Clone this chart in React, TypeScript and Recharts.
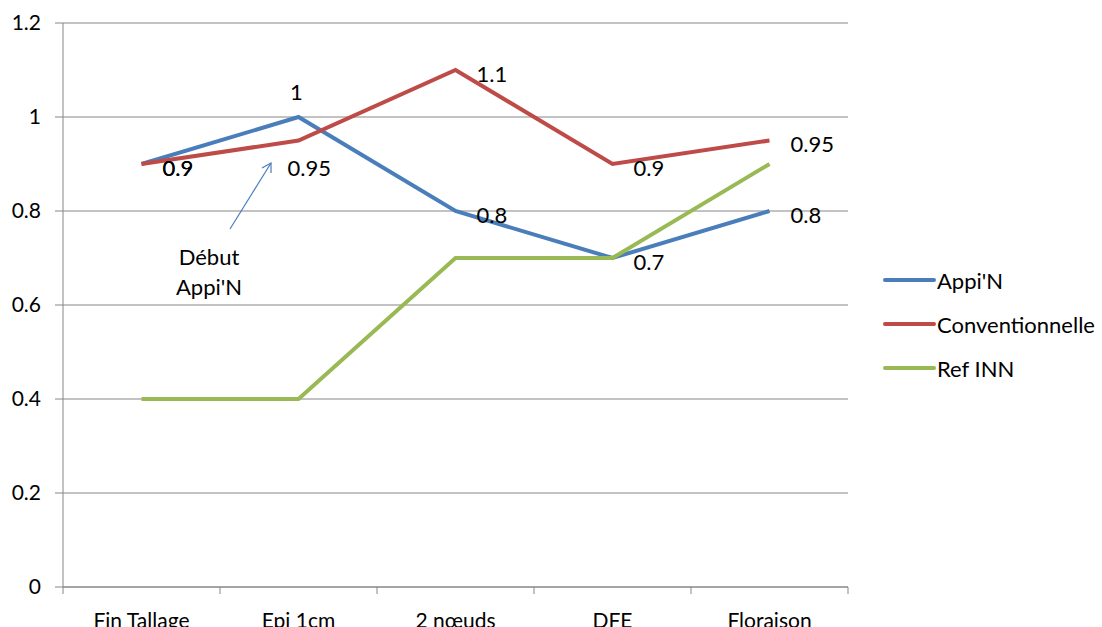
import { CartesianGrid, LabelList, Line, LineChart, XAxis, YAxis } from "recharts";

// Stage names along the x axis and the three nitrogen index series.
const STAGES = ["Fin Tallage", "Epi 1cm", "2 nœuds", "DFE", "Floraison"];
const APPIN = [0.9, 1, 0.8, 0.7, 0.8];
const CONVENTIONNELLE = [0.9, 0.95, 1.1, 0.9, 0.95];
const REF_INN = [0.4, 0.4, 0.7, 0.7, 0.9];
const Y_TICKS = [0, 0.2, 0.4, 0.6, 0.8, 1, 1.2];

// Where each value label sits relative to its point (Excel placed them by hand).
const APPIN_LABEL_POS = ["right", "top", "right", "right", "right"];
const CONV_LABEL_POS = ["right", "below", "right", "right", "right"];

const BLUE = "#4a7ebb";
const RED = "#be4b48";
const GREEN = "#98b954";
const GRID = "#868686";
const FONT = "Lato, 'Open Sans', sans-serif";

const W = 1102;
const H = 627;
const PLOT_LEFT = 63;
const PLOT_RIGHT = 848;
const HALF_BAND = (PLOT_RIGHT - PLOT_LEFT) / STAGES.length / 2;

const rows = STAGES.map((stage, i) => ({
  stage,
  appin: APPIN[i],
  conv: CONVENTIONNELLE[i],
  ref: REF_INN[i],
}));

const SERIES = [
  { key: "appin", name: "Appi'N", color: BLUE },
  { key: "conv", name: "Conventionnelle", color: RED },
  { key: "ref", name: "Ref INN", color: GREEN },
];

function makeLabel(positions: string[]) {
  return (props: any) => {
    const { x, y, value, index } = props;
    const pos = positions[index];
    let tx = x + 21;
    let ty = y + 3;
    let anchor: "start" | "middle" = "start";
    if (pos === "top") {
      tx = x - 2;
      ty = y - 26;
      anchor = "middle";
    } else if (pos === "below") {
      tx = x - 11;
      ty = y + 27;
    }
    return (
      <text x={tx} y={ty} textAnchor={anchor} dominantBaseline="central" fontSize={22} fontFamily={FONT} fill="#000">
        {value}
      </text>
    );
  };
}

function StageTick(props: any) {
  const { x, y, payload, index, visibleTicksCount } = props;
  const last = index === visibleTicksCount - 1;
  return (
    <g>
      <line x1={x - HALF_BAND} y1={y - 8} x2={x - HALF_BAND} y2={y - 1} stroke={GRID} />
      {last && <line x1={x + HALF_BAND} y1={y - 8} x2={x + HALF_BAND} y2={y - 1} stroke={GRID} />}
      <text x={x} y={y + 33} textAnchor="middle" fontSize={21} fontFamily={FONT} fill="#000">
        {payload.value}
      </text>
    </g>
  );
}

function LegendBox() {
  return (
    <div style={{ position: "absolute", left: 883, top: 258, fontFamily: FONT, fontSize: 22, color: "#000" }}>
      {SERIES.map((s) => (
        <div key={s.key} style={{ display: "flex", alignItems: "center", height: 44 }}>
          <span style={{ width: 53, height: 4, borderRadius: 2, background: s.color, display: "inline-block" }} />
          <span style={{ marginLeft: 1 }}>{s.name}</span>
        </div>
      ))}
    </div>
  );
}

export default function App() {
  return (
    <div style={{ position: "absolute", left: 0, top: 0, width: W, height: H, background: "#fff" }}>
      <LineChart width={W} height={H} data={rows} margin={{ top: 23, right: W - PLOT_RIGHT, bottom: 0, left: 0 }}>
        <CartesianGrid vertical={false} stroke={GRID} />
        <XAxis
          dataKey="stage"
          height={40}
          padding={{ left: HALF_BAND, right: HALF_BAND }}
          axisLine={{ stroke: GRID }}
          tickLine={false}
          tick={<StageTick />}
          interval={0}
        />
        <YAxis
          width={PLOT_LEFT}
          domain={[0, 1.2]}
          ticks={Y_TICKS}
          axisLine={{ stroke: GRID }}
          tickLine={{ stroke: GRID }}
          tickSize={8}
          tickMargin={14}
          tick={{ fontSize: 21, fontFamily: FONT, fill: "#000" }}
        />
        <Line dataKey="appin" name="Appi'N" stroke={BLUE} strokeWidth={4} dot={false} isAnimationActive={false}>
          <LabelList dataKey="appin" content={makeLabel(APPIN_LABEL_POS)} />
        </Line>
        <Line dataKey="conv" name="Conventionnelle" stroke={RED} strokeWidth={4} dot={false} isAnimationActive={false}>
          <LabelList dataKey="conv" content={makeLabel(CONV_LABEL_POS)} />
        </Line>
        <Line dataKey="ref" name="Ref INN" stroke={GREEN} strokeWidth={4} dot={false} isAnimationActive={false} />
      </LineChart>

      <LegendBox />

      {/* "Début Appi'N" call-out with its thin arrow */}
      <svg width={W} height={H} style={{ position: "absolute", left: 0, top: 0, pointerEvents: "none" }}>
        <line x1={230} y1={229} x2={271} y2={163} stroke={BLUE} strokeWidth={1.2} />
        <polyline points="262,168 271,163 271,173" fill="none" stroke={BLUE} strokeWidth={1.2} />
        <text x={209} y={256} textAnchor="middle" dominantBaseline="central" fontSize={22} fontFamily={FONT} fill="#000">
          Début
        </text>
        <text x={209} y={286} textAnchor="middle" dominantBaseline="central" fontSize={22} fontFamily={FONT} fill="#000">
          Appi'N
        </text>
      </svg>
    </div>
  );
}
